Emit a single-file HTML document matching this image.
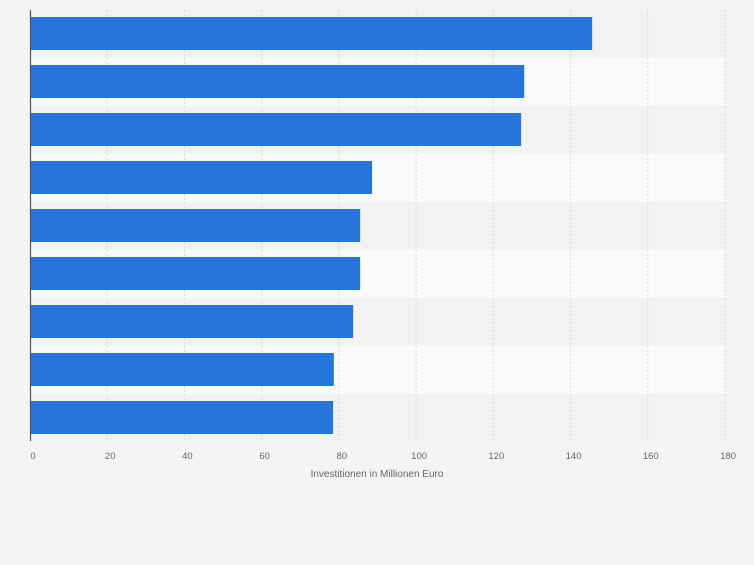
<!DOCTYPE html>
<html><head><meta charset="utf-8"><style>
body{margin:0;background:#f4f4f4;font-family:"Liberation Sans",sans-serif}
</style></head><body>
<svg id="chart" width="754" height="560" xmlns="http://www.w3.org/2000/svg">
<rect width="754" height="560" fill="#f4f4f4"/>
<g id="bands"></g><g id="grid"></g><g id="bars"></g><g id="ticks"></g>
<line x1="30.5" y1="10" x2="30.5" y2="441" stroke="#555" stroke-width="1.2"/>
<text x="377" y="477" font-size="10" fill="#666" text-anchor="middle">Investitionen in Millionen Euro</text>
</svg>
<script>
const categories=["A","B","C","D","E","F","G","H","I"];
const values=[145.6,128,127.2,88.6,85.5,85.5,83.7,78.7,78.5];
const tickValues=[0,20,40,60,80,100,120,140,160,180];
const ns="http://www.w3.org/2000/svg";
const x0=30,x1=725,plotTop=10,band=48,maxV=180;
const xs=v=>x0+(x1-x0)*v/maxV;
function mk(t,a,p){const e=document.createElementNS(ns,t);for(const k in a)e.setAttribute(k,a[k]);document.getElementById(p).appendChild(e);return e;}
categories.forEach((c,i)=>{
 const b=mk("rect",{x:x0,y:plotTop+i*band,width:x1-x0,height:band,fill:i%2?"#fafafa":"#f2f2f2"},"bands");
 
 
});
tickValues.forEach(t=>{
 if(t>0){const g=mk("line",{x1:xs(t),x2:xs(t),y1:plotTop,y2:441,stroke:"#d8d8d8","stroke-dasharray":"2,2"},"grid");
 
 }
 const tx=mk("text",{x:xs(t)+3,y:459,"font-size":"9.5",fill:"#666","text-anchor":"middle"},"ticks");
 tx.textContent=t;
 
 
});
values.forEach((v,i)=>{
 const r=mk("rect",{x:x0,y:plotTop+i*band+7,width:xs(v)-x0,height:33,fill:"#2775db"},"bars");
 
 
});
</script>
</body></html>
